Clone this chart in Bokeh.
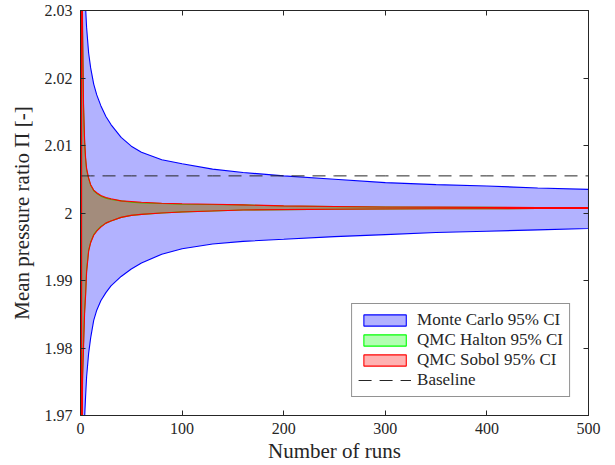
from bokeh.plotting import figure
from bokeh.models import Range1d, LinearAxis, FixedTicker, Legend, LegendItem
from bokeh.embed import file_html
from bokeh.resources import INLINE

# ---- data ----
runs = [1, 2, 3, 4, 5, 6, 8, 10, 13, 16, 20, 25, 30, 40, 50, 60, 80, 100,
        130, 160, 200, 250, 300, 350, 400, 450, 500]

mc_upper = [2.0675, 2.0480, 2.0390, 2.0335, 2.0305, 2.0275, 2.0237, 2.0215,
            2.0191, 2.0175, 2.0159, 2.0143, 2.0131, 2.0112, 2.0099, 2.0090,
            2.0079, 2.0073, 2.0065, 2.0060, 2.0055, 2.0050, 2.0045, 2.0042,
            2.0040, 2.0037, 2.0035]
mc_lower = [1.9350, 1.9530, 1.9630, 1.9695, 1.9728, 1.9757, 1.9792, 1.9815,
            1.9841, 1.9856, 1.9870, 1.9882, 1.9892, 1.9906, 1.9917, 1.9926,
            1.9939, 1.9947, 1.9954, 1.9958, 1.9961, 1.9965, 1.9968, 1.9971,
            1.9973, 1.9975, 1.9977]

halton_upper = [2.0580, 2.0270, 2.0155, 2.0105, 2.0080, 2.0064, 2.0051,
                2.0041, 2.0033, 2.0029, 2.0025, 2.0022, 2.0020, 2.0018,
                2.0016, 2.0015, 2.0014, 2.0013, 2.00125, 2.0012, 2.00103,
                2.00095, 2.00089, 2.00086, 2.00083, 2.00080, 2.00079]
halton_lower = [1.9420, 1.9760, 1.9810, 1.9855, 1.9880, 1.9915, 1.9945,
                1.9957, 1.9968, 1.9974, 1.9980, 1.9985, 1.9988, 1.99935,
                1.99965, 1.9998, 2.0000, 2.00016, 2.0003, 2.00045, 2.0005,
                2.00056, 2.0006, 2.00063, 2.00065, 2.00066, 2.00068]

sobol_upper = [2.0600, 2.0280, 2.0160, 2.0110, 2.0082, 2.0066, 2.0052,
               2.0042, 2.0034, 2.0030, 2.0026, 2.0023, 2.0021, 2.0018,
               2.0017, 2.0016, 2.00145, 2.00137, 2.0013, 2.0012, 2.00105,
               2.00097, 2.0009, 2.00087, 2.00084, 2.00081, 2.0008]
sobol_lower = [1.9400, 1.9750, 1.9800, 1.9850, 1.9877, 1.9912, 1.9943,
               1.9956, 1.9967, 1.9973, 1.9979, 1.9985, 1.9988, 1.99935,
               1.99965, 1.99980, 2.0000, 2.00015, 2.0003, 2.00045, 2.0005,
               2.00055, 2.0006, 2.00062, 2.00064, 2.00066, 2.00067]

baseline = 2.0055

x_ticks = [0, 100, 200, 300, 400, 500]
y_ticks = [1.97, 1.98, 1.99, 2.0, 2.01, 2.02, 2.03]
y_tick_labels = ["1.97", "1.98", "1.99", "2", "2.01", "2.02", "2.03"]

x_label = "Number of runs"
y_label = "Mean pressure ratio \u03a0 [-]"
series_labels = ["Monte Carlo 95% CI", "QMC Halton 95% CI", "QMC Sobol 95% CI", "Baseline"]

# ---- style ----
FONT = "Liberation Serif"
AX = "#262626"

p = figure(width=615, height=465, output_backend="svg", toolbar_location=None,
           x_range=Range1d(0, 500), y_range=Range1d(1.97, 2.03),
           min_border_left=80, min_border_right=27, min_border_top=10,
           min_border_bottom=50)
p.background_fill_color = "white"
p.border_fill_color = "white"
p.outline_line_color = AX
p.outline_line_width = 1
p.xgrid.visible = False
p.ygrid.visible = False


def band(upper, lower, color):
    xs = runs + runs[::-1]
    ys = upper + lower[::-1]
    return p.patch(xs, ys, fill_color=color, fill_alpha=0.3,
                   line_color=color, line_width=1.1)


r_mc = band(mc_upper, mc_lower, "#0000ff")
r_ha = band(halton_upper, halton_lower, "#00ff00")
r_so = band(sobol_upper, sobol_lower, "#ff0000")
r_bl = p.line(runs, [baseline] * len(runs), line_color="#262626",
              line_width=1, line_dash="13 8")

for ax in (p.xaxis[0], p.yaxis[0]):
    ax.axis_line_color = AX
    ax.major_tick_line_color = AX
    ax.major_tick_in = 5
    ax.major_tick_out = 0
    ax.minor_tick_line_color = None
    ax.major_label_text_font = FONT
    ax.major_label_text_font_size = "16px"
    ax.major_label_text_color = AX
    ax.axis_label_text_font = FONT
    ax.axis_label_text_font_size = "21px"
    ax.axis_label_text_font_style = "normal"
    ax.axis_label_text_color = AX

p.xaxis.ticker = FixedTicker(ticks=x_ticks)
p.yaxis.ticker = FixedTicker(ticks=y_ticks)
p.yaxis.major_label_overrides = {t: l for t, l in zip(y_ticks, y_tick_labels)}
p.xaxis.axis_label = x_label
p.yaxis.axis_label = y_label
p.xaxis.major_label_standoff = 7
p.yaxis.major_label_standoff = 8
p.xaxis.axis_label_standoff = 2
p.yaxis.axis_label_standoff = 8

for ticks, side in ((x_ticks, "above"), (y_ticks, "right")):
    a = LinearAxis(ticker=FixedTicker(ticks=ticks), major_tick_in=5,
                   major_tick_out=0, minor_tick_line_color=None,
                   major_label_text_font_size="1px",
                   major_label_text_color=None, major_label_standoff=0,
                   axis_line_color=AX, major_tick_line_color=AX)
    p.add_layout(a, side)

legend = Legend(items=[LegendItem(label=series_labels[0], renderers=[r_mc]),
                       LegendItem(label=series_labels[1], renderers=[r_ha]),
                       LegendItem(label=series_labels[2], renderers=[r_so]),
                       LegendItem(label=series_labels[3], renderers=[r_bl])],
                location="bottom_right", margin=18, padding=6, spacing=0,
                glyph_width=53, glyph_height=14, label_height=14,
                label_standoff=6, label_text_font=FONT,
                label_text_font_size="17px", label_text_color=AX,
                border_line_color=AX, border_line_width=1,
                background_fill_color="white", background_fill_alpha=1)
p.add_layout(legend)

open("out.html", "w").write(file_html(p, INLINE))
